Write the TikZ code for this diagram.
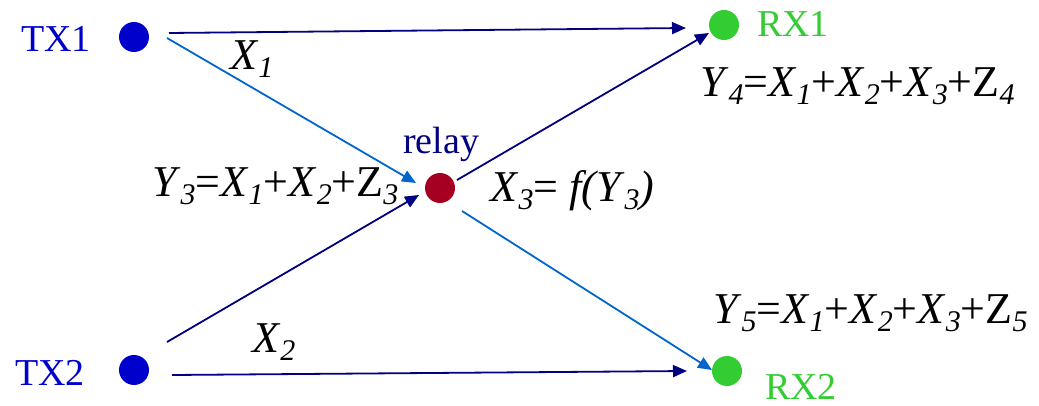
\documentclass[tikz,border=0pt]{standalone}
\usepackage{fontspec}
\setmainfont{Liberation Serif}
\usetikzlibrary{arrows.meta,calc}
\definecolor{navyc}{RGB}{0,0,128}
\definecolor{bluec}{RGB}{0,102,204}
\definecolor{txc}{RGB}{0,0,204}
\definecolor{rxc}{RGB}{51,204,51}
\definecolor{relc}{RGB}{165,0,33}
\newcommand\sbx[1]{\raisebox{-8pt}{\fontsize{30}{30}\selectfont\textit{#1}}}
\newcommand\vx[1]{\textit{#1}}
\tikzset{
  dot/.style={circle,minimum size=30pt,inner sep=0pt,fill=#1},
  lbl/.style={anchor=base west,inner sep=0pt,font=\fontsize{38}{44}\selectfont},
  eqn/.style={anchor=base west,inner sep=0pt,font=\fontsize{44}{50}\selectfont},
  nav/.style={draw=navyc,line width=1.8pt,-{Triangle[length=14pt,width=12pt]},fill=navyc},
  blu/.style={draw=bluec,line width=1.8pt,-{Triangle[length=14pt,width=12pt]},fill=bluec}
}
\begin{document}
\begin{tikzpicture}[x=1pt,y=-1pt]
\useasboundingbox (0,0) rectangle (1039,406);
\node[dot=txc] (tx1) at (134,37) {};
\node[dot=txc] (tx2) at (134,370) {};
\node[dot=rxc] (rx1) at (724,25) {};
\node[dot=rxc] (rx2) at (727,371) {};
\node[dot=relc] (relay) at (440,188) {};
\node[lbl,text=txc] (ltx1) at (21,52) {TX1};
\node[lbl,text=txc] (ltx2) at (15,385) {TX2};
\node[lbl,text=rxc] (lrx1) at (757,37) {RX1};
\node[lbl,text=rxc] (lrx2) at (765,399) {RX2};
\node[lbl,text=navyc] (lrelay) at (403,154) {relay};
\node[eqn] (x1) at (230,70) {\vx{X}\sbx{1}};
\node[eqn] (x2) at (252,352) {\vx{X}\sbx{2}};
\node[eqn] (y3) at (152,197) {\vx{Y}\sbx{3}=\vx{X}\sbx{1}+\vx{X}\sbx{2}+Z\sbx{3}};
\node[eqn] (x3) at (490,202) {\vx{X}\sbx{3}= \vx{f(Y}\sbx{3}\vx{)}};
\node[eqn] (y4) at (700,97) {\vx{Y}\sbx{4}=\vx{X}\sbx{1}+\vx{X}\sbx{2}+\vx{X}\sbx{3}+Z\sbx{4}};
\node[eqn] (y5) at (713,323) {\vx{Y}\sbx{5}=\vx{X}\sbx{1}+\vx{X}\sbx{2}+\vx{X}\sbx{3}+Z\sbx{5}};
\draw[nav] ($(tx1)+(35,-4)$) -- ($(rx1)+(-38,3)$);
\draw[blu] ($(tx1)+(33,1)$) -- ($(relay)+(-24,-5)$);
\draw[nav] ($(tx2)+(33,-28)$) -- ($(relay)+(-21,7)$);
\draw[nav] ($(tx2)+(38,5)$) -- ($(rx2)+(-40,0)$);
\draw[nav] ($(relay)+(17,-8)$) -- ($(rx1)+(-15,8)$);
\draw[blu] ($(relay)+(22,23)$) -- ($(rx2)+(-15,-1)$);
\end{tikzpicture}
\end{document}
